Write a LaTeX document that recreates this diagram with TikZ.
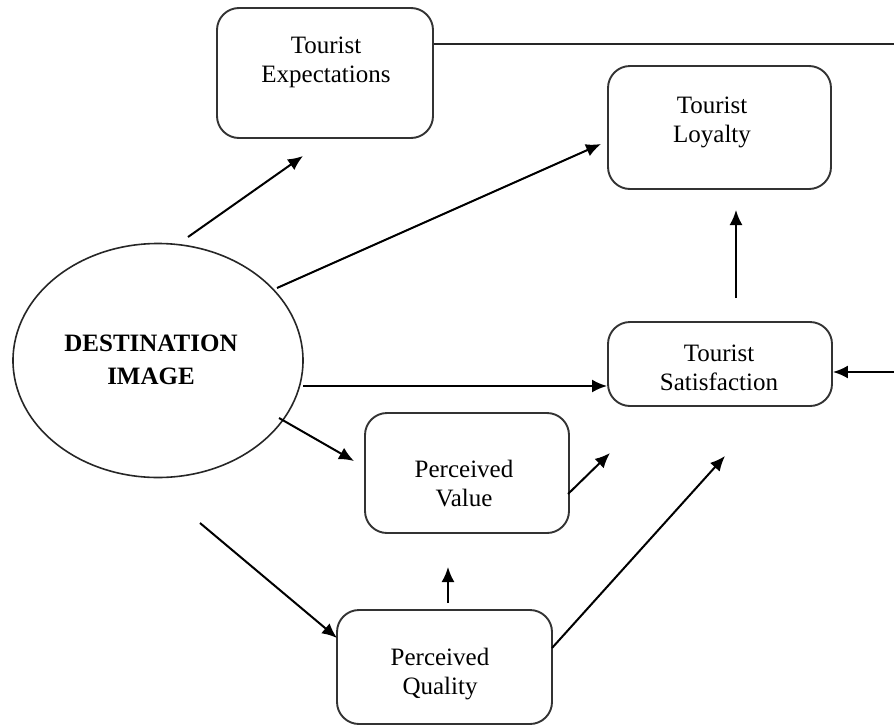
\documentclass[tikz,border=0pt]{standalone}
\usepackage{fontspec}
\setmainfont{Liberation Serif}
\usetikzlibrary{arrows.meta,shapes.geometric}

\tikzset{
  box/.style={draw=black!80, line width=1.9pt, rounded corners=22pt, inner sep=0pt},
  lbl/.style={inner sep=0pt, align=center, font=\fontsize{25}{29}\selectfont},
  conn/.style={line width=2pt, -{Latex[length=15pt,width=13pt]}},
  plain/.style={line width=1.7pt, black!85}
}

\begin{document}
\begin{tikzpicture}[x=1pt,y=-1pt]
\useasboundingbox (0,0) rectangle (894,726);

% boxes
\node[box, minimum width=216pt, minimum height=130pt] (exp)  at (325,73)    {};
\node[box, minimum width=223pt, minimum height=123pt] (loy)  at (719.5,127.5) {};
\node[box, minimum width=224pt, minimum height=84pt]  (sat)  at (720,364)   {};
\node[box, minimum width=204pt, minimum height=120pt] (val)  at (467,473)   {};
\node[box, minimum width=215pt, minimum height=114pt] (qual) at (444.5,667) {};
\node[ellipse, draw=black!85, line width=1.6pt, minimum width=290pt, minimum height=234pt, inner sep=0pt] (dest) at (158,360.5) {};

% labels
\node[lbl] (expT)  at (326,62)  {Tourist\\Expectations};
\node[lbl] (loyT)  at (712,122) {Tourist\\Loyalty};
\node[lbl] (satT)  at (719,368) {Tourist\\Satisfaction};
\node[lbl] (valT)  at (464,484) {Perceived\\Value};
\node[lbl] (qualT) at (440,674) {Perceived\\Quality};
\node[inner sep=0pt, align=center, font=\fontsize{25}{33}\selectfont\bfseries] (destT) at (151,360) {DESTINATION\\IMAGE};

% free ends of the arrows leaving the image
\coordinate (d1) at (188,237);
\coordinate (t1) at (303,156);
\coordinate (d2) at (277,288);
\coordinate (t2) at (601,144);
\coordinate (d3) at (303,386);
\coordinate (t3) at (607,386);
\coordinate (d4) at (279,418);
\coordinate (t4) at (354,461);
\coordinate (d5) at (200,523);
\coordinate (t5) at (337,638);
\coordinate (q1) at (448,603);
\coordinate (t6) at (448,567);
\coordinate (v1) at (568,494);
\coordinate (t7) at (610,453);
\coordinate (q2) at (552,648);
\coordinate (t8) at (725,456);
\coordinate (s1) at (736,298);
\coordinate (t9) at (736,210);
\coordinate (e1) at ([yshift=29pt]exp.east);
\coordinate (r1) at (900,44);
\coordinate (r2) at (900,372);
\coordinate (t10) at ([yshift=-8pt]sat.east);

% connectors
\draw[conn] (d1) -- (t1);
\draw[conn] (d2) -- (t2);
\draw[conn] (d3) -- (t3);
\draw[conn] (d4) -- (t4);
\draw[conn] (d5) -- (t5);
\draw[conn] (q1) -- (t6);
\draw[conn] (v1) -- (t7);
\draw[conn] (q2) -- (t8);
\draw[conn] (s1) -- (t9);
\draw[plain] (e1) -- (r1) -- (r2);
\draw[conn] (r2) -- (t10);
\end{tikzpicture}
\end{document}
